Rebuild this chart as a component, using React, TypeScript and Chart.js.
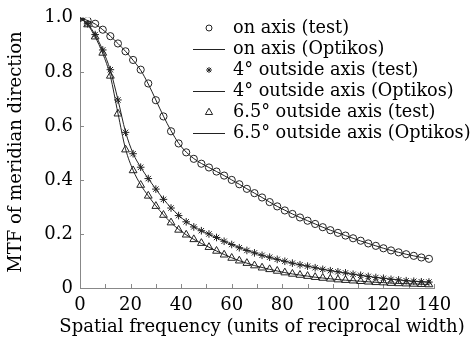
import React, { useEffect, useRef } from 'react';
import { Chart, registerables } from 'chart.js';

Chart.register(...registerables);

const frequencies = [0, 3, 6, 9, 12, 15, 18, 21, 24, 27, 30, 33, 36, 39, 42, 45, 48, 51, 54, 57, 60, 63, 66, 69, 72, 75, 78, 81, 84, 87, 90, 93, 96, 99, 102, 105, 108, 111, 114, 117, 120, 123, 126, 129, 132, 135, 138];

const onAxisTest = [1.0, 0.99, 0.978, 0.956, 0.932, 0.905, 0.876, 0.844, 0.808, 0.757, 0.695, 0.635, 0.58, 0.535, 0.502, 0.478, 0.46, 0.446, 0.431, 0.416, 0.4, 0.384, 0.367, 0.351, 0.335, 0.318, 0.302, 0.287, 0.274, 0.261, 0.249, 0.237, 0.225, 0.214, 0.204, 0.194, 0.184, 0.175, 0.165, 0.156, 0.147, 0.139, 0.132, 0.125, 0.119, 0.113, 0.108];
const onAxisOptikos = [1.0, 0.99, 0.977, 0.956, 0.932, 0.905, 0.876, 0.843, 0.806, 0.755, 0.696, 0.636, 0.582, 0.536, 0.503, 0.479, 0.461, 0.446, 0.431, 0.416, 0.4, 0.384, 0.367, 0.351, 0.335, 0.318, 0.302, 0.288, 0.274, 0.261, 0.249, 0.237, 0.225, 0.214, 0.204, 0.194, 0.184, 0.174, 0.165, 0.156, 0.147, 0.139, 0.132, 0.125, 0.119, 0.113, 0.108];

const deg4Test = [1.0, 0.978, 0.938, 0.881, 0.808, 0.696, 0.576, 0.497, 0.447, 0.405, 0.366, 0.328, 0.296, 0.268, 0.245, 0.226, 0.212, 0.2, 0.187, 0.173, 0.161, 0.149, 0.139, 0.13, 0.121, 0.114, 0.106, 0.099, 0.092, 0.086, 0.081, 0.075, 0.069, 0.064, 0.06, 0.056, 0.051, 0.047, 0.043, 0.039, 0.036, 0.032, 0.03, 0.027, 0.025, 0.023, 0.022];
const deg4Optikos = [1.0, 0.978, 0.937, 0.88, 0.806, 0.697, 0.578, 0.498, 0.447, 0.405, 0.366, 0.329, 0.297, 0.269, 0.246, 0.227, 0.212, 0.199, 0.186, 0.173, 0.161, 0.15, 0.139, 0.13, 0.121, 0.113, 0.106, 0.099, 0.092, 0.086, 0.081, 0.075, 0.069, 0.064, 0.06, 0.055, 0.051, 0.047, 0.043, 0.039, 0.036, 0.033, 0.03, 0.027, 0.025, 0.023, 0.022];

const deg65Test = [1.0, 0.975, 0.93, 0.87, 0.785, 0.645, 0.512, 0.435, 0.381, 0.341, 0.303, 0.27, 0.242, 0.215, 0.197, 0.18, 0.166, 0.151, 0.137, 0.123, 0.111, 0.101, 0.092, 0.083, 0.075, 0.069, 0.063, 0.057, 0.052, 0.048, 0.044, 0.04, 0.037, 0.034, 0.031, 0.029, 0.027, 0.025, 0.023, 0.021, 0.02, 0.018, 0.017, 0.016, 0.015, 0.014, 0.013];
const deg65Optikos = [1.0, 0.975, 0.929, 0.868, 0.784, 0.647, 0.515, 0.436, 0.382, 0.341, 0.304, 0.271, 0.242, 0.217, 0.197, 0.18, 0.165, 0.151, 0.137, 0.124, 0.112, 0.101, 0.092, 0.083, 0.076, 0.069, 0.063, 0.057, 0.052, 0.048, 0.044, 0.04, 0.037, 0.034, 0.031, 0.029, 0.027, 0.025, 0.023, 0.021, 0.02, 0.018, 0.017, 0.016, 0.015, 0.014, 0.013];

const seriesLabels = [
  'on axis (test)',
  'on axis (Optikos)',
  '4° outside axis (test)',
  '4° outside axis (Optikos)',
  '6.5° outside axis (test)',
  '6.5° outside axis (Optikos)',
];

const xAxisTitle = 'Spatial frequency (units of reciprocal width)';
const yAxisTitle = 'MTF of meridian direction';

const FONT = '"DejaVu Serif", "Liberation Serif", serif';
const INK = '#222';
const AXIS = '#888';

const toPoints = (ys: number[]) => ys.map((y, i) => ({ x: frequencies[i], y }));

function drawMarker(ctx: CanvasRenderingContext2D, style: string, x: number, y: number, r: number) {
  ctx.beginPath();
  if (style === 'circle') {
    ctx.arc(x, y, r, 0, Math.PI * 2);
  } else if (style === 'triangle') {
    ctx.moveTo(x, y - r);
    ctx.lineTo(x + r * 0.95, y + r * 0.65);
    ctx.lineTo(x - r * 0.95, y + r * 0.65);
    ctx.closePath();
  } else if (style === 'star') {
    for (let k = 0; k < 4; k++) {
      const a = (k * Math.PI) / 4;
      ctx.moveTo(x - Math.cos(a) * r, y - Math.sin(a) * r);
      ctx.lineTo(x + Math.cos(a) * r, y + Math.sin(a) * r);
    }
  }
  ctx.stroke();
}

const inwardTicks = {
  id: 'inwardTicks',
  beforeDatasetsDraw(chart: any) {
    const { ctx, chartArea, scales } = chart;
    const x = scales.x;
    const y = scales.y;
    ctx.save();
    ctx.strokeStyle = AXIS;
    ctx.lineWidth = 1;
    ctx.beginPath();
    x.ticks.forEach((t: any) => {
      const px = Math.round(x.getPixelForValue(t.value)) + 0.5;
      ctx.moveTo(px, chartArea.bottom);
      ctx.lineTo(px, chartArea.bottom - 4);
    });
    y.ticks.forEach((t: any) => {
      const py = Math.round(y.getPixelForValue(t.value)) + 0.5;
      ctx.moveTo(chartArea.left, py);
      ctx.lineTo(chartArea.left + 4, py);
    });
    ctx.stroke();
    ctx.restore();
  },
};

const axisTitles = {
  id: 'axisTitles',
  afterDraw(chart: any) {
    const { ctx } = chart;
    ctx.save();
    ctx.fillStyle = '#000';
    ctx.textAlign = 'center';
    ctx.textBaseline = 'middle';
    ctx.font = `18px ${FONT}`;
    ctx.fillText(xAxisTitle, 262, 327);
    ctx.translate(16, 152);
    ctx.rotate(-Math.PI / 2);
    ctx.font = `18px ${FONT}`;
    ctx.fillText(yAxisTitle, 0, 0);
    ctx.restore();
  },
};

const customLegend = {
  id: 'customLegend',
  afterDraw(chart: any) {
    const { ctx } = chart;
    const sampleX = 209;
    const textX = 233;
    const top = 28;
    const step = 21;
    ctx.save();
    chart.data.datasets.forEach((ds: any, i: number) => {
      const y = top + i * step;
      ctx.strokeStyle = INK;
      ctx.lineWidth = 1;
      if (ds.showLine) {
        ctx.beginPath();
        ctx.moveTo(193, y + 0.5);
        ctx.lineTo(225, y + 0.5);
        ctx.stroke();
      } else {
        drawMarker(ctx, ds.pointStyle, sampleX, y, ds.pointStyle === 'triangle' ? 3.8 : 3);
      }
      ctx.fillStyle = '#000';
      ctx.font = `17.7px ${FONT}`;
      ctx.textBaseline = 'middle';
      ctx.textAlign = 'left';
      ctx.fillText(ds.label, textX, y);
    });
    ctx.restore();
  },
};

export default function App() {
  const canvasRef = useRef<HTMLCanvasElement | null>(null);

  useEffect(() => {
    if (!canvasRef.current) return;
    const testSet = (label: string, data: number[], style: string, radius: number) => ({
      label,
      data: toPoints(data),
      showLine: false,
      pointStyle: style,
      pointRadius: radius,
      pointBorderWidth: 1,
      pointBorderColor: INK,
      pointBackgroundColor: 'rgba(0,0,0,0)',
      borderColor: INK,
    });
    const lineSet = (label: string, data: number[]) => ({
      label,
      data: toPoints(data),
      showLine: true,
      pointRadius: 0,
      borderWidth: 1,
      borderColor: INK,
      cubicInterpolationMode: 'monotone',
      fill: false,
    });

    const chart = new Chart(canvasRef.current, {
      type: 'line',
      data: {
        datasets: [
          testSet(seriesLabels[0], onAxisTest, 'circle', 3.6),
          lineSet(seriesLabels[1], onAxisOptikos),
          testSet(seriesLabels[2], deg4Test, 'star', 3.8),
          lineSet(seriesLabels[3], deg4Optikos),
          testSet(seriesLabels[4], deg65Test, 'triangle', 4.5),
          lineSet(seriesLabels[5], deg65Optikos),
        ] as any,
      },
      options: {
        responsive: false,
        animation: false,
        devicePixelRatio: 1,
        layout: { padding: { top: 13, right: 42, left: 0, bottom: 0 } },
        plugins: {
          legend: { display: false },
          tooltip: { enabled: false },
        },
        scales: {
          x: {
            type: 'linear',
            min: 0,
            max: 140,
            afterFit: (s: any) => { s.height = 51; },
            grid: { display: false, drawTicks: false },
            border: { display: true, color: AXIS, width: 1 },
            ticks: {
              stepSize: 10,
              autoSkip: false,
              maxRotation: 0,
              padding: 7,
              color: '#000',
              font: { family: FONT, size: 18 },
              callback: (v: any) => (Number(v) % 20 === 0 ? String(v) : ''),
            },
          },
          y: {
            type: 'linear',
            min: 0,
            max: 1,
            afterFit: (s: any) => { s.width = 80; },
            grid: { display: false, drawTicks: false },
            border: { display: true, color: AXIS, width: 1 },
            ticks: {
              stepSize: 0.2,
              padding: 7,
              color: '#000',
              font: { family: FONT, size: 18 },
              callback: (v: any) => (Number(v) === 0 ? '0' : Number(v).toFixed(1)),
            },
          },
        },
      } as any,
      plugins: [inwardTicks, axisTitles, customLegend],
    });
    return () => chart.destroy();
  }, []);

  return (
    <div style={{ position: 'fixed', left: 0, top: 0, width: 476, height: 339, background: '#fff' }}>
      <canvas ref={canvasRef} width={476} height={339} style={{ display: 'block' }} />
    </div>
  );
}
